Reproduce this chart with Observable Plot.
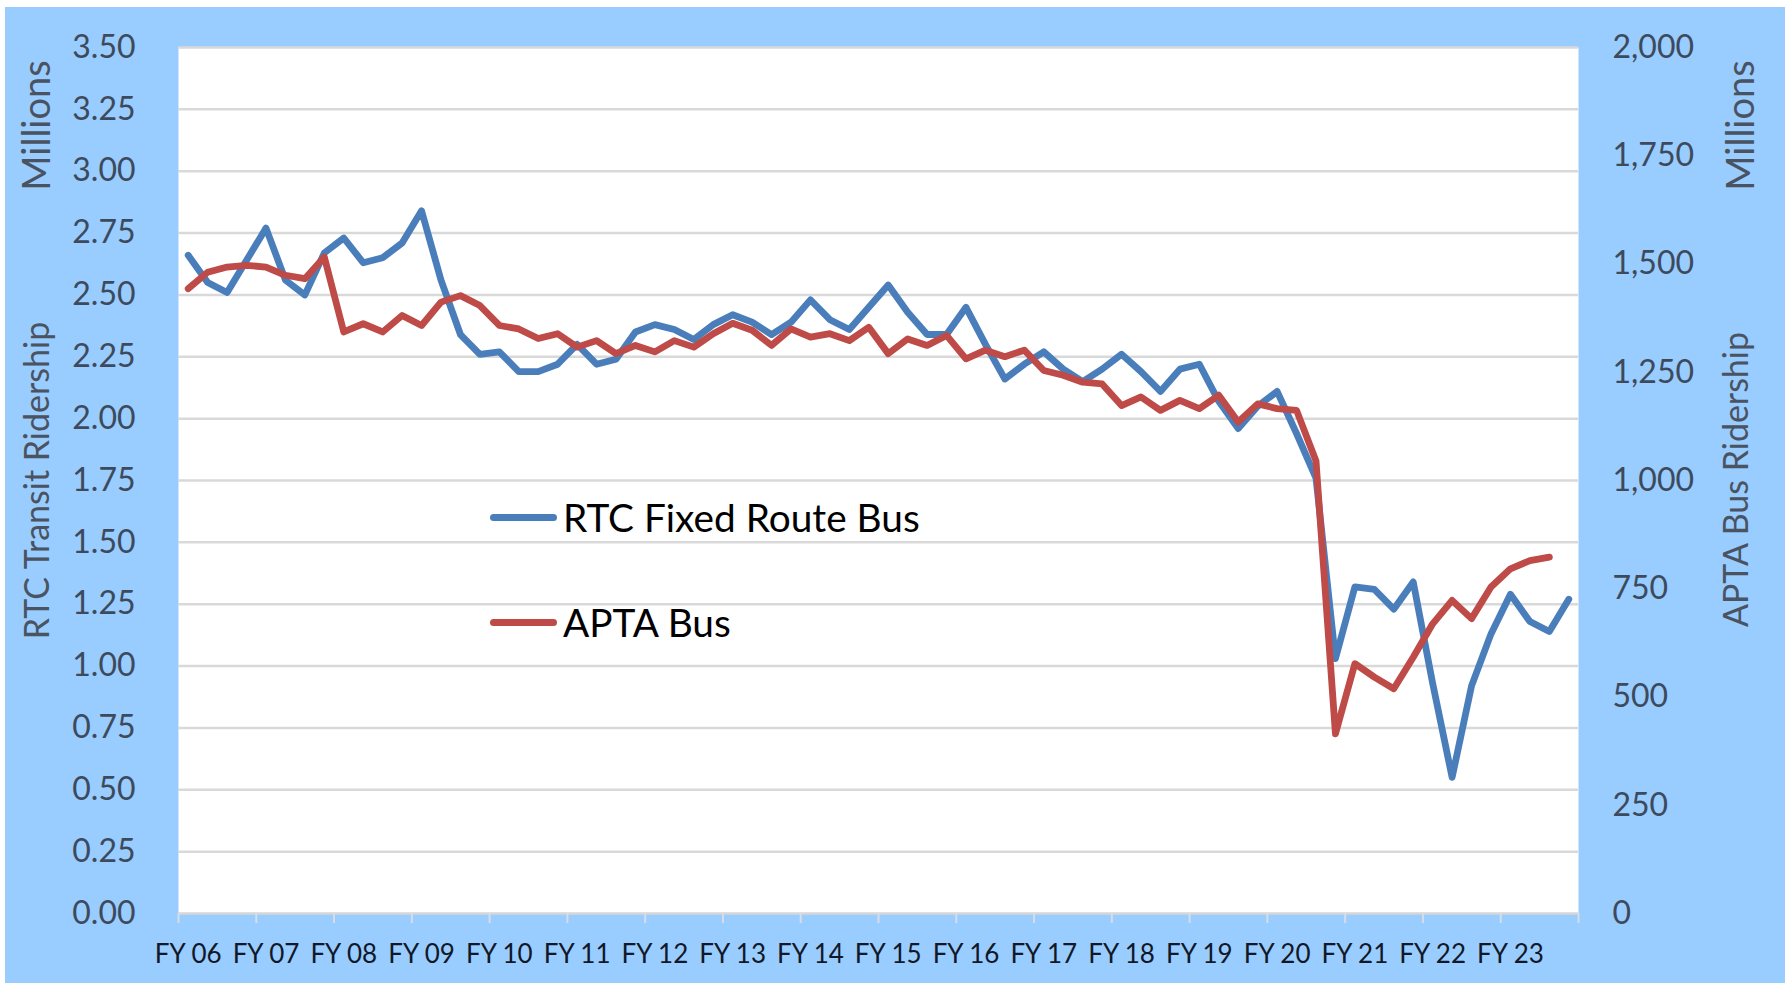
<!DOCTYPE html>
<html><head><meta charset="utf-8">
<script src="https://cdn.jsdelivr.net/npm/d3@7"></script>
<script src="https://cdn.jsdelivr.net/npm/@observablehq/plot@0.6"></script>
<style>
html,body{margin:0;padding:0;background:#fff;}
#wrap{position:relative;width:1790px;height:987px;background:#fff;overflow:hidden;}
#panel{position:absolute;left:5px;top:7px;width:1780px;height:976px;background:#99CCFF;}
#chart{position:absolute;left:0;top:0;}
#chart svg{background:transparent !important;}
.item{position:absolute;left:490px;display:flex;align-items:center;white-space:nowrap;font-family:Lato,sans-serif;font-size:38.8px;line-height:44px;color:#000;}
.sw{width:67px;height:7px;border-radius:3.5px;margin-right:6px;}
</style></head>
<body><div id="wrap"><div id="panel"></div><div id="chart"></div><div id="legend"></div></div>
<script>
// Fiscal-year labels (one per 4 quarters)
const fyLabels = ["FY 06","FY 07","FY 08","FY 09","FY 10","FY 11","FY 12","FY 13","FY 14","FY 15","FY 16","FY 17","FY 18","FY 19","FY 20","FY 21","FY 22","FY 23"];

// RTC Fixed Route Bus, quarterly, millions (left axis)
const rtcRidership = [
  2.66, 2.55, 2.51, 2.64, 2.77, 2.56, 2.50, 2.67, 2.73, 2.63,
  2.65, 2.71, 2.84, 2.56, 2.34, 2.26, 2.27, 2.19, 2.19, 2.22,
  2.30, 2.22, 2.24, 2.35, 2.38, 2.36, 2.32, 2.38, 2.42, 2.39,
  2.34, 2.39, 2.48, 2.40, 2.36, 2.45, 2.54, 2.43, 2.34, 2.34,
  2.45, 2.30, 2.16, 2.22, 2.27, 2.20, 2.15, 2.20, 2.26, 2.19,
  2.11, 2.20, 2.22, 2.07, 1.96, 2.05, 2.11, 1.94, 1.76, 1.03,
  1.32, 1.31, 1.23, 1.34, 0.93, 0.55, 0.92, 1.13, 1.29, 1.18,
  1.14, 1.27
];

// APTA Bus, quarterly, millions (right axis)
const aptaRidership = [
  1443, 1481, 1493, 1497, 1493, 1474, 1466, 1516, 1343, 1362,
  1343, 1381, 1358, 1412, 1427, 1404, 1358, 1350, 1328, 1339,
  1308, 1323, 1293, 1312, 1297, 1323, 1308, 1339, 1363, 1347,
  1312, 1350, 1331, 1339, 1323, 1354, 1293, 1327, 1312, 1335,
  1281, 1301, 1286, 1301, 1254, 1243, 1227, 1223, 1173, 1193,
  1162, 1185, 1166, 1197, 1135, 1177, 1166, 1162, 1045, 415,
  577, 546, 519, 592, 669, 723, 681, 754, 796, 815,
  823
];

const leftTicks = [0, 0.25, 0.5, 0.75, 1, 1.25, 1.5, 1.75, 2, 2.25, 2.5, 2.75, 3, 3.25, 3.5];
const rightTicks = [0, 250, 500, 750, 1000, 1250, 1500, 1750, 2000];
const leftMax = 3.5, rightMax = 2000;
const k = leftMax / rightMax; // right-axis units -> left-axis units

const seriesNames = ["RTC Fixed Route Bus", "APTA Bus"];
const seriesColors = ["#4A7EBB", "#BE4B48"];

const nQ = rtcRidership.length;
const labelPos = fyLabels.map((_, j) => j * 4);
const boundaryPos = d3.range(0, fyLabels.length + 1).map(j => j * 4 - 0.5);

const font = "Lato, sans-serif";
const tickColor = "#3d4a5c";
const titleColor = "#4a5361";
const titleOpts = {text: d => d, rotate: -90, textAnchor: "middle", lineAnchor: "middle", fill: titleColor};

const chart = Plot.plot({
  width: 1790,
  height: 987,
  marginLeft: 178,
  marginRight: 212,
  marginTop: 47,
  marginBottom: 74,
  style: {fontFamily: font, background: "transparent", overflow: "visible"},
  x: {domain: [-0.5, nQ - 0.5]},
  y: {domain: [0, leftMax]},
  marks: [
    Plot.frame({fill: "white", stroke: null}),
    Plot.ruleY(leftTicks.filter(d => d > 0), {stroke: "#d9d9d9", strokeWidth: 2.5}),
    Plot.ruleY([0], {stroke: "#d6d6d6", strokeWidth: 2.5}),
    // x tick marks at year boundaries
    Plot.axisX(boundaryPos, {anchor: "bottom", tickSize: 10, stroke: "#d6dde6", strokeWidth: 2, tickFormat: () => "", label: null}),
    // x labels
    Plot.axisX(labelPos, {anchor: "bottom", tickSize: 0, tickPadding: 31, tickFormat: d => fyLabels[d / 4], fontSize: 26, color: "#111827", label: null}),
    // left axis
    Plot.axisY(leftTicks, {anchor: "left", tickSize: 0, tickPadding: 43, tickFormat: d3.format(".2f"), fontSize: 32, color: tickColor, label: null}),
    // right axis
    Plot.axisY(rightTicks.map(v => v * k), {anchor: "right", tickSize: 0, tickPadding: 34, tickFormat: d => d3.format(",")(Math.round(d / k)), fontSize: 32, color: tickColor, label: null}),
    // axis titles
    Plot.text(["Millions"], {...titleOpts, frameAnchor: "top-left", dx: -141, dy: 78, fontSize: 38}),
    Plot.text(["RTC Transit Ridership"], {...titleOpts, frameAnchor: "left", dx: -140, dy: 0, fontSize: 34}),
    Plot.text(["Millions"], {...titleOpts, frameAnchor: "top-right", dx: 163, dy: 78, fontSize: 38}),
    Plot.text(["APTA Bus Ridership"], {...titleOpts, frameAnchor: "right", dx: 159, dy: -1, fontSize: 34}),
    // series
    Plot.line(rtcRidership, {x: (d, i) => i, y: d => d, stroke: seriesColors[0], strokeWidth: 6.8, strokeLinejoin: "round", strokeLinecap: "round"}),
    Plot.line(aptaRidership, {x: (d, i) => i, y: d => d * k, stroke: seriesColors[1], strokeWidth: 6.8, strokeLinejoin: "round", strokeLinecap: "round"})
  ]
});
document.getElementById("chart").appendChild(chart);

// Legend (inside plot area, as in the reference)
const legend = document.getElementById("legend");
const legendTops = [495, 600];
seriesNames.forEach((name, j) => {
  const item = document.createElement("div");
  item.className = "item";
  item.style.top = legendTops[j] + "px";
  const sw = document.createElement("span");
  sw.className = "sw";
  sw.style.background = seriesColors[j];
  const tx = document.createElement("span");
  tx.textContent = name;
  item.appendChild(sw);
  item.appendChild(tx);
  legend.appendChild(item);
});
</script>
</body></html>
